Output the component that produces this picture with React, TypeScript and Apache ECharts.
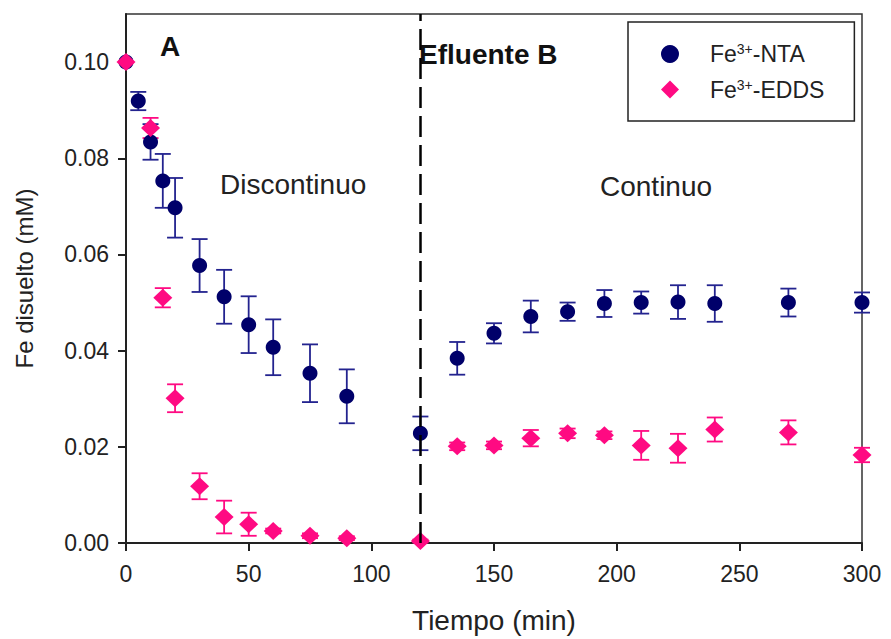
import React, { useEffect, useRef } from "react";
import * as echarts from "echarts";

const timeNTA = [0, 5, 10, 15, 20, 30, 40, 50, 60, 75, 90, 120, 135, 150, 165, 180, 195, 210, 225, 240, 270, 300];
const valNTA = [0.1, 0.0919, 0.0834, 0.0753, 0.0697, 0.0577, 0.0512, 0.0454, 0.0407, 0.0353, 0.0305, 0.0228, 0.0384, 0.0436, 0.0471, 0.0481, 0.0498, 0.05, 0.0501, 0.0498, 0.05, 0.05];
const errNTA = [0, 0.0019, 0.0037, 0.0056, 0.0062, 0.0055, 0.0056, 0.0059, 0.0058, 0.006, 0.0056, 0.0035, 0.0034, 0.0021, 0.0033, 0.0019, 0.0028, 0.0023, 0.0035, 0.0038, 0.0029, 0.0021];

const timeEDDS = [0, 10, 15, 20, 30, 40, 50, 60, 75, 90, 120, 135, 150, 165, 180, 195, 210, 225, 240, 270, 300];
const valEDDS = [0.1, 0.0863, 0.051, 0.0301, 0.0118, 0.0054, 0.0039, 0.0025, 0.0015, 0.001, 0.0004, 0.0201, 0.0203, 0.0218, 0.0228, 0.0224, 0.0203, 0.0197, 0.0236, 0.023, 0.0183];
const errEDDS = [0, 0.0021, 0.002, 0.0029, 0.0027, 0.0034, 0.0024, 0.0005, 0.0005, 0.0004, 0.0003, 0.0008, 0.0008, 0.0017, 0.001, 0.0008, 0.003, 0.003, 0.0025, 0.0025, 0.0015];

const xTicks = [0, 50, 100, 150, 200, 250, 300];
const yTicks = [0, 0.02, 0.04, 0.06, 0.08, 0.1];
const dividerTime = 120;

const NAVY = "#00006a";
const NAVY_ERR = "#23238f";
const PINK = "#ff0a82";
const FONT = "Liberation Sans";

function errorRender(color: string) {
  return (params: any, api: any) => {
    const x = api.value(0);
    const lo = api.value(1);
    const hi = api.value(2);
    if (hi - lo <= 0) return null;
    const pTop = api.coord([x, hi]);
    const pBot = api.coord([x, lo]);
    const w = 8;
    const style = { stroke: color, lineWidth: 1.8 };
    return {
      type: "group",
      children: [
        { type: "line", shape: { x1: pTop[0], y1: pTop[1], x2: pBot[0], y2: pBot[1] }, style },
        { type: "line", shape: { x1: pTop[0] - w, y1: pTop[1], x2: pTop[0] + w, y2: pTop[1] }, style },
        { type: "line", shape: { x1: pBot[0] - w, y1: pBot[1], x2: pBot[0] + w, y2: pBot[1] }, style },
      ],
    };
  };
}

export default function App() {
  const ref = useRef<HTMLDivElement>(null);
  useEffect(() => {
    if (!ref.current) return;
    const chart = echarts.init(ref.current, null, { renderer: "svg" });
    const ntaPts = timeNTA.map((t, i) => [t, valNTA[i]]);
    const eddsPts = timeEDDS.map((t, i) => [t, valEDDS[i]]);
    const ntaErr = timeNTA.map((t, i) => [t, valNTA[i] - errNTA[i], valNTA[i] + errNTA[i]]);
    const eddsErr = timeEDDS.map((t, i) => [t, valEDDS[i] - errEDDS[i], valEDDS[i] + errEDDS[i]]);
    const rich = {
      a: { fontFamily: FONT, fontSize: 23, color: "#222" },
      s: { fontFamily: FONT, fontSize: 14, color: "#222", verticalAlign: "top", padding: [0, 0, 10, 0] },
    };
    chart.setOption({
      animation: false,
      backgroundColor: "#fff",
      grid: { left: 126, top: 14, right: 29, bottom: 96, show: true, borderColor: "#333", borderWidth: 1.5, backgroundColor: "transparent" },
      xAxis: {
        type: "value",
        min: 0,
        max: 300,
        interval: 50,
        name: "Tiempo (min)",
        nameLocation: "middle",
        nameGap: 63,
        nameTextStyle: { fontFamily: FONT, fontSize: 28, color: "#222" },
        axisLine: { show: true, onZero: false, lineStyle: { color: "#222", width: 2 } },
        axisTick: { show: true, inside: false, length: 8, lineStyle: { color: "#222", width: 2 }, customValues: xTicks },
        axisLabel: { fontFamily: FONT, fontSize: 23, color: "#222", margin: 19, customValues: xTicks },
        splitLine: { show: false },
      },
      yAxis: {
        type: "value",
        min: 0,
        max: 0.11,
        interval: 0.02,
        name: "Fe disuelto (mM)",
        nameLocation: "middle",
        nameGap: 90,
        nameTextStyle: { fontFamily: FONT, fontSize: 24, color: "#222" },
        axisLine: { show: true, onZero: false, lineStyle: { color: "#222", width: 2 } },
        axisTick: { show: true, inside: false, length: 8, lineStyle: { color: "#222", width: 2 }, customValues: yTicks },
        axisLabel: {
          fontFamily: FONT,
          fontSize: 23,
          color: "#222",
          margin: 17,
          customValues: yTicks,
          formatter: (v: number) => (v > 0.105 ? "" : v.toFixed(2)),
        },
        splitLine: { show: false },
      },
      legend: {
        orient: "vertical",
        left: 628,
        top: 22,
        padding: [20, 30, 20, 33],
        itemGap: 12,
        itemWidth: 18,
        itemHeight: 18,
        borderColor: "#222",
        borderWidth: 1.5,
        data: [
          { name: "Fe3+-NTA", icon: "circle", itemStyle: { color: NAVY, opacity: 1 } },
          { name: "Fe3+-EDDS", icon: "diamond", itemStyle: { color: PINK, opacity: 1 } },
        ],
        formatter: (name: string) => (name === "Fe3+-NTA" ? "{a|Fe}{s|3+}{a|-NTA}" : "{a|Fe}{s|3+}{a|-EDDS}"),
        textStyle: { rich, padding: [0, 0, 0, 26] },
      },
      graphic: [
        { type: "text", left: 160, top: 32, style: { text: "A", fontFamily: FONT, fontSize: 28, fontWeight: "bold", fill: "#111" } },
        { type: "text", left: 419, top: 40, style: { text: "Efluente B", fontFamily: FONT, fontSize: 28, fontWeight: "bold", fill: "#111" } },
        { type: "text", left: 220, top: 170, style: { text: "Discontinuo", fontFamily: FONT, fontSize: 28, fill: "#222" } },
        { type: "text", left: 600, top: 172, style: { text: "Continuo", fontFamily: FONT, fontSize: 28, fill: "#222" } },
      ],
      series: [
        {
          type: "custom",
          name: "errNTA",
          renderItem: errorRender(NAVY_ERR),
          data: ntaErr,
          encode: { x: 0, y: [1, 2] },
          z: 2,
          silent: true,
        },
        {
          type: "custom",
          name: "errEDDS",
          renderItem: errorRender(PINK),
          data: eddsErr,
          encode: { x: 0, y: [1, 2] },
          z: 2,
          silent: true,
        },
        {
          type: "scatter",
          name: "Fe3+-NTA",
          data: ntaPts,
          symbol: "circle",
          symbolSize: 15,
          itemStyle: { color: NAVY, opacity: 1 },
          z: 3,
          markLine: {
            silent: true,
            symbol: ["none", "none"],
            label: { show: false },
            lineStyle: { color: "#000", width: 2.5, type: [21, 8], opacity: 1 },
            data: [{ xAxis: dividerTime }],
            z: 5,
          },
        },
        {
          type: "scatter",
          name: "Fe3+-EDDS",
          data: eddsPts,
          symbol: "diamond",
          symbolSize: [19, 18],
          itemStyle: { color: PINK, opacity: 1 },
          z: 4,
        },
      ],
    });
    return () => chart.dispose();
  }, []);
  return <div ref={ref} style={{ width: 891, height: 639, position: "absolute", left: 0, top: 0 }} />;
}
